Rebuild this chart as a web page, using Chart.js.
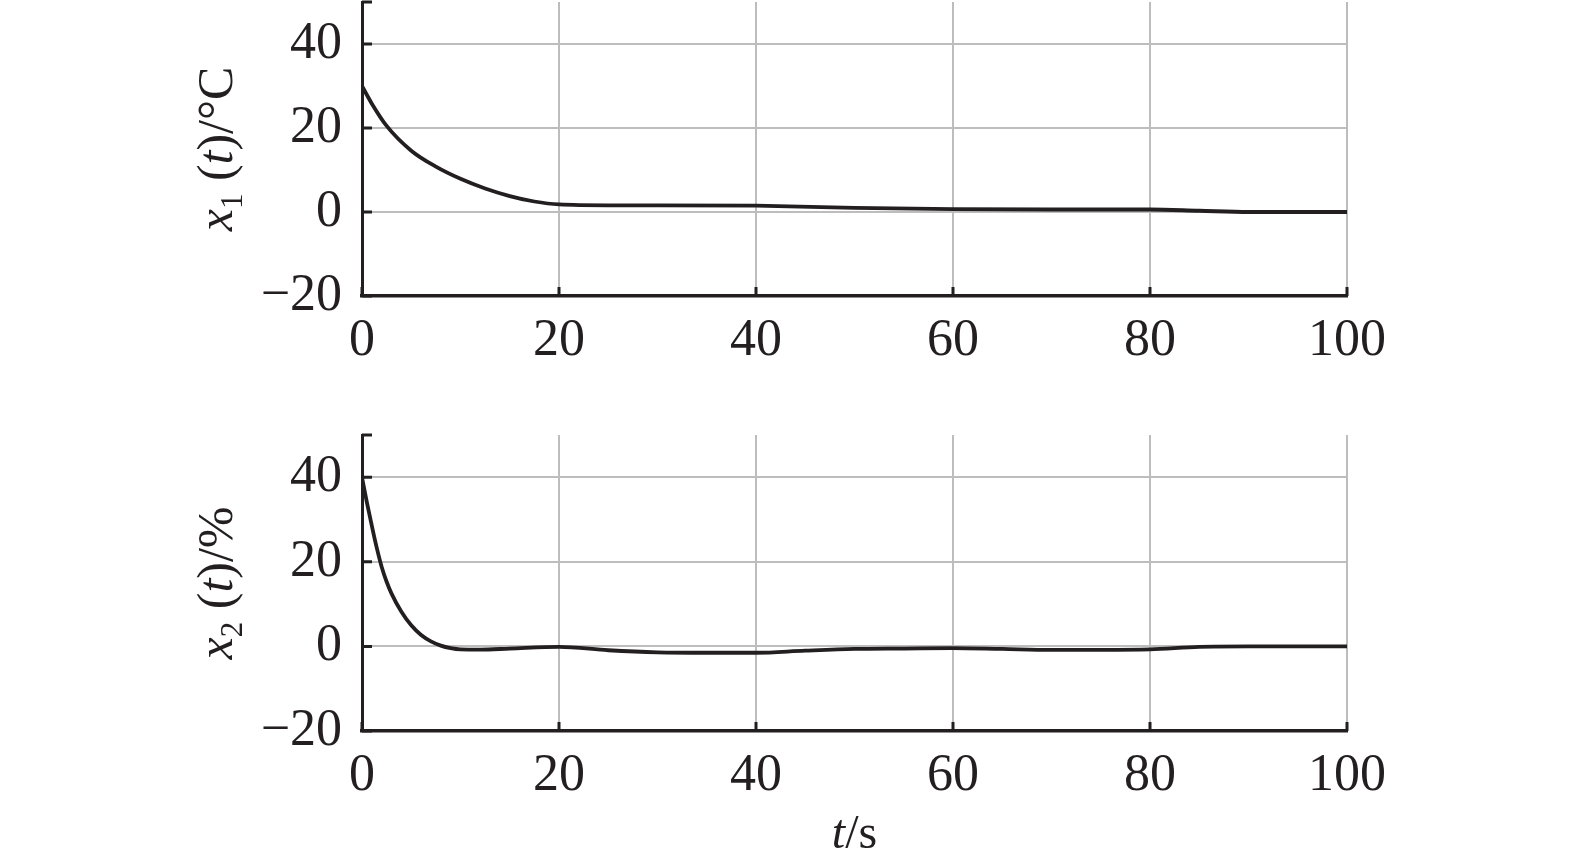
<!DOCTYPE html>
<html>
<head>
<meta charset="utf-8">
<script src="https://cdn.jsdelivr.net/npm/chart.js@4.4.0/dist/chart.umd.min.js"></script>
<style>
  html, body { margin: 0; padding: 0; background: #fff; }
  .box { position: absolute; left: 0; width: 1575px; }
  #top { top: 0; height: 433px; }
  #bot { top: 433px; height: 433px; }
</style>
</head>
<body>
<div class="box" id="top"><canvas id="chartTop"></canvas></div>
<div class="box" id="bot"><canvas id="chartBot"></canvas></div>
<script>
// values
var xTicks = [0, 20, 40, 60, 80, 100];
var yTicks = [-20, 0, 20, 40];

var tTop = [0, 1, 2.5, 5, 7.5, 10, 12.5, 15, 17.5, 20, 25, 30, 40, 50, 60, 70, 80, 85, 90, 100];
var x1 = [30, 25.8, 20.5, 14.6, 10.8, 7.9, 5.6, 3.8, 2.5, 1.8, 1.6, 1.6, 1.5, 1.0, 0.7, 0.6, 0.6, 0.3, 0, 0];

var tBot = [0, 0.5, 1, 1.5, 2, 2.5, 3, 4, 5, 6, 7, 8, 9, 10, 12, 15, 20, 25, 30, 35, 40, 45, 50, 55, 60, 65, 70, 75, 80, 85, 90, 100];
var x2 = [40, 34, 28.5, 23.3, 18.8, 15.3, 12.5, 8.2, 5.0, 2.7, 1.2, 0.2, -0.4, -0.7, -0.75, -0.5, -0.1, -0.9, -1.4, -1.5, -1.5, -1.0, -0.6, -0.5, -0.4, -0.6, -0.8, -0.8, -0.7, -0.1, 0, 0];

var ink = "#231f20";
var gridGray = "#bdbdbd";
var serif = "'Liberation Serif', 'Times New Roman', serif";

function toPoints(xs, ys) {
    var pts = [];
    for (let i = 0; i < xs.length; i++) {
        pts.push({ x: xs[i], y: ys[i] });
    }
    return pts;
}

// draw mixed italic / subscript text pieces, centred on 0
function drawPieces(ctx, pieces, size) {
    let total = 0;
    for (let p of pieces) {
        ctx.font = (p.italic ? "italic " : "") + (p.sub ? size * 0.62 : size) + "px " + serif;
        p.w = ctx.measureText(p.text).width;
        total += p.w;
    }
    let x = -total / 2;
    for (let p of pieces) {
        ctx.font = (p.italic ? "italic " : "") + (p.sub ? size * 0.62 : size) + "px " + serif;
        ctx.fillText(p.text, x, p.sub ? size * 0.2 : 0);
        x += p.w;
    }
}

var decor = {
    id: "decor",
    afterDatasetsDraw(chart, args, opts) {
        const ctx = chart.ctx;
        const xs = chart.scales.x, ys = chart.scales.y;
        const area = chart.chartArea;
        ctx.save();
        // inward tick marks
        ctx.strokeStyle = ink;
        ctx.lineWidth = 3;
        ctx.beginPath();
        xs.ticks.forEach((t) => {
            const px = xs.getPixelForValue(t.value);
            ctx.moveTo(px, area.bottom);
            ctx.lineTo(px, area.bottom - 9);
        });
        ys.ticks.concat([{ value: ys.max }]).forEach((t) => {
            const py = ys.getPixelForValue(t.value);
            ctx.moveTo(area.left, py);
            ctx.lineTo(area.left + 10, py);
        });
        ctx.stroke();

        // y axis title
        ctx.fillStyle = ink;
        ctx.textBaseline = "alphabetic";
        ctx.save();
        ctx.translate(opts.yTitleX, (area.top + area.bottom) / 2);
        ctx.rotate(-Math.PI / 2);
        drawPieces(ctx, opts.yTitle, 50);
        ctx.restore();

        // x axis title
        if (opts.xTitle) {
            ctx.save();
            ctx.translate((area.left + area.right) / 2, opts.xTitleY);
            drawPieces(ctx, opts.xTitle, 48);
            ctx.restore();
        }
        ctx.restore();
    },
};

function makeConfig(xs, ys, xHeight, titleOpts) {
    return {
        type: "line",
        data: {
            datasets: [
                {
                    data: toPoints(xs, ys),
                    borderColor: ink,
                    borderWidth: 3.8,
                    pointRadius: 0,
                    fill: false,
                    cubicInterpolationMode: "monotone",
                },
            ],
        },
        options: {
            responsive: true,
            maintainAspectRatio: false,
            animation: false,
            layout: { padding: { top: 2, right: 228, left: 0, bottom: 0 } },
            plugins: {
                legend: { display: false },
                tooltip: { enabled: false },
                decor: titleOpts,
            },
            scales: {
                x: {
                    type: "linear",
                    min: 0,
                    max: 100,
                    afterBuildTicks: (s) => { s.ticks = xTicks.map((v) => ({ value: v })); },
                    afterFit: (s) => {
                        s.height = xHeight;
                        s.paddingLeft = 0;
                        s.paddingRight = 0;
                    },
                    grid: {
                        drawTicks: false,
                        lineWidth: 2,
                        color: (c) => (c.tick && c.tick.value === 0 ? "rgba(0,0,0,0)" : gridGray),
                    },
                    border: { display: true, color: ink, width: 3.5 },
                    ticks: {
                        color: ink,
                        padding: 14,
                        maxRotation: 0,
                        font: { family: serif, size: 52 },
                    },
                },
                y: {
                    min: -20,
                    max: 50,
                    afterBuildTicks: (s) => { s.ticks = yTicks.map((v) => ({ value: v })); },
                    afterFit: (s) => {
                        s.width = 362;
                        s.paddingTop = 0;
                        s.paddingBottom = 0;
                    },
                    grid: {
                        drawTicks: false,
                        lineWidth: 2,
                        color: (c) => (c.tick && c.tick.value === -20 ? "rgba(0,0,0,0)" : gridGray),
                    },
                    border: { display: true, color: ink, width: 3 },
                    ticks: {
                        color: ink,
                        padding: 20,
                        font: { family: serif, size: 52 },
                        callback: (v) => (v < 0 ? "\u2212" + Math.abs(v) : String(v)),
                    },
                },
            },
        },
        plugins: [decor],
    };
}

new Chart(document.getElementById("chartTop"), makeConfig(tTop, x1, 137, {
    yTitleX: 232,
    yTitle: [
        { text: "x", italic: true },
        { text: "1", sub: true },
        { text: " (" },
        { text: "t", italic: true },
        { text: ")/°C" },
    ],
}));

new Chart(document.getElementById("chartBot"), makeConfig(tBot, x2, 135, {
    yTitleX: 232,
    yTitle: [
        { text: "x", italic: true },
        { text: "2", sub: true },
        { text: " (" },
        { text: "t", italic: true },
        { text: ")/%" },
    ],
    xTitleY: 415,
    xTitle: [
        { text: "t", italic: true },
        { text: "/s" },
    ],
}));
</script>
</body>
</html>
